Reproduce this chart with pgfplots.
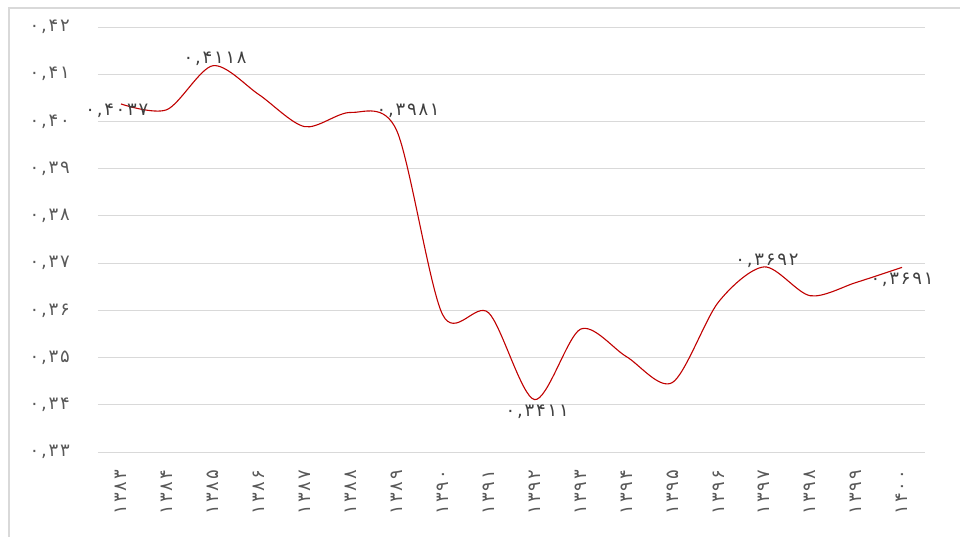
\documentclass[border=0pt]{standalone}
\usepackage{fontspec}
\setmainfont{DejaVu Sans}
\newfontfamily\fa[LetterSpace=10]{DejaVu Sans}
\usepackage{pgfplots}
\pgfplotsset{compat=1.18}
\definecolor{linered}{HTML}{C00000}
\definecolor{gridgray}{HTML}{D9D9D9}
\definecolor{ticktext}{HTML}{595959}
\definecolor{labeltext}{HTML}{404040}

\begin{document}
\begin{tikzpicture}[x=1pt,y=1pt]
\path[use as bounding box] (-98,-84) rectangle (862,452);
\draw[gridgray, line width=1.2pt] (-89,-90) -- (-89,444) -- (870,444);
\begin{axis}[
    at={(0,0)}, anchor=south west,
    scale only axis,
    width=827pt, height=425pt,
    xmin=-0.5, xmax=17.5,
    ymin=0.33, ymax=0.42,
    axis line style={draw=none},
    major tick length=0pt,
    ymajorgrids,
    grid style={gridgray, line width=1pt},
    ytick={0.33,0.34,0.35,0.36,0.37,0.38,0.39,0.40,0.41,0.42},
    yticklabels={{۰,۳۳},{۰,۳۴},{۰,۳۵},{۰,۳۶},{۰,۳۷},{۰,۳۸},{۰,۳۹},{۰,۴۰},{۰,۴۱},{۰,۴۲}},
    xtick={0,...,17},
    xticklabels={۱۳۸۳,۱۳۸۴,۱۳۸۵,۱۳۸۶,۱۳۸۷,۱۳۸۸,۱۳۸۹,۱۳۹۰,۱۳۹۱,۱۳۹۲,۱۳۹۳,۱۳۹۴,۱۳۹۵,۱۳۹۶,۱۳۹۷,۱۳۹۸,۱۳۹۹,۱۴۰۰},
    ticklabel style={font=\fa\fontsize{18}{20}\selectfont, text=ticktext, inner sep=3pt},
    yticklabel style={anchor=east, xshift=-25pt},
    xticklabel style={yshift=-15pt, rotate=90, anchor=east},
    clip=false,
]
\addplot[linered, line width=1.1pt, smooth, tension=0.5] coordinates {
    (0,0.4037) (1,0.4025) (2,0.4118) (3,0.4057) (4,0.3989) (5,0.4019)
    (6,0.3981) (7,0.3591) (8,0.3595) (9,0.3411) (10,0.3560) (11,0.3502)
    (12,0.3447) (13,0.3617) (14,0.3692) (15,0.3631) (16,0.3659) (17,0.3691)
};
\begin{scope}[every node/.style={font=\fa\fontsize{18}{20}\selectfont, text=labeltext, inner sep=0pt}]
\node at (axis cs:-0.09,0.4022) {۰,۴۰۳۷};
\node at (axis cs:2.05,0.4132) {۰,۴۱۱۸};
\node at (axis cs:6.25,0.4022) {۰,۳۹۸۱};
\node at (axis cs:9.06,0.3385) {۰,۳۴۱۱};
\node at (axis cs:14.06,0.3704) {۰,۳۶۹۲};
\node at (axis cs:17.0,0.3664) {۰,۳۶۹۱};
\end{scope}
\end{axis}
\end{tikzpicture}
\end{document}
